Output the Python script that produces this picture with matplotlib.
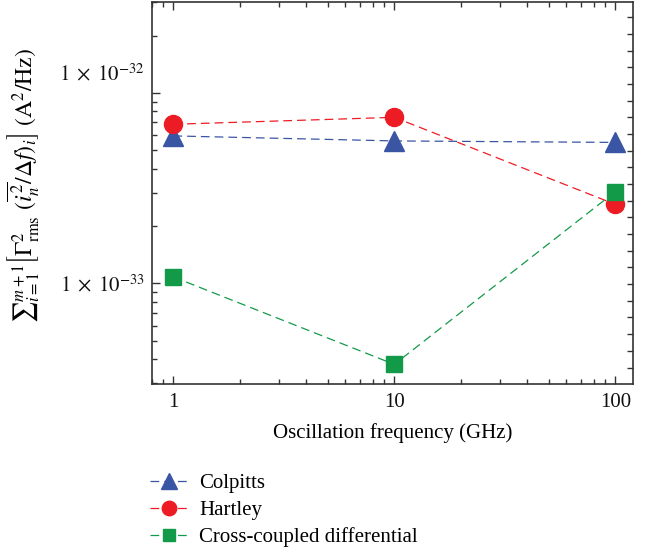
import numpy as np
import matplotlib.pyplot as plt
from matplotlib.ticker import LogLocator, FixedLocator, NullFormatter, FixedFormatter
from matplotlib.transforms import ScaledTranslation

plt.rcParams['font.family'] = ['Liberation Serif', 'DejaVu Serif']
plt.rcParams['mathtext.fontset'] = 'stix'

# data
freq = [1, 10, 100]
colpitts = [5.95e-33, 5.6e-33, 5.5e-33]
hartley = [6.85e-33, 7.45e-33, 2.6e-33]
cross = [1.08e-33, 3.75e-34, 3.03e-33]
names = ["Colpitts", "Hartley", "Cross-coupled differential"]
ytick_vals = [1e-33, 1e-32]
ytick_labels = [r"$1\;\times\;10^{-33}$", r"$1\;\times\;10^{-32}$"]

blue = '#3A55A4'
red = '#ED1C24'
green = '#139A48'
frame = '#333333'

fig = plt.figure(figsize=(6.55, 5.52), dpi=100)
ax = fig.add_axes([0.232, 0.304, 0.734, 0.692])

ax.plot(freq, colpitts, '--', color=blue, lw=0.9, dashes=(7, 4),
        marker='^', ms=15, mec=blue, mfc=blue, label=names[0])
ax.plot(freq, hartley, '--', color=red, lw=0.9, dashes=(7, 4),
        marker='o', ms=13, mec=red, mfc=red, label=names[1])
ax.plot(freq, cross, '--', color=green, lw=0.9, dashes=(7, 4),
        marker='s', ms=11, mec=green, mfc=green, label=names[2])

ax.set_xscale('log')
ax.set_yscale('log')
ax.set_xlim(0.8, 120)
ax.set_ylim(2.95e-34, 3.0e-32)

# x ticks
ax.xaxis.set_major_locator(FixedLocator(freq))
ax.xaxis.set_major_formatter(FixedFormatter(['1', '10', '100']))
ax.xaxis.set_minor_locator(LogLocator(base=10, subs=np.arange(2, 10)))
ax.xaxis.set_minor_formatter(NullFormatter())

# y ticks
ax.yaxis.set_major_locator(FixedLocator(ytick_vals))
ax.yaxis.set_major_formatter(FixedFormatter(ytick_labels))
ax.yaxis.set_minor_locator(LogLocator(base=10, subs=np.arange(2, 10)))
ax.yaxis.set_minor_formatter(NullFormatter())

ax.tick_params(which='both', direction='in', top=True, right=False,
               color=frame, width=1.0, labelsize=15, labelcolor='#111111')
ax.tick_params(which='major', length=6)
ax.tick_params(which='minor', length=3.5)
ax.tick_params(axis='x', pad=6)
ax.tick_params(axis='y', pad=5)

# the upper label sits a little above its tick in the original
fig.canvas.draw()
lab = ax.yaxis.get_majorticklabels()[1]
lab.set_transform(lab.get_transform() + ScaledTranslation(0, 15 / 72, fig.dpi_scale_trans))

for s in ax.spines.values():
    s.set_color(frame)
    s.set_linewidth(1.2)

# right frame carries its own evenly spaced ticks
ax2 = ax.twinx()
ax2.set_ylim(0, 22.9)
ax2.yaxis.set_major_locator(FixedLocator(np.arange(1, 23)))
ax2.tick_params(axis='y', direction='in', length=4, width=1.0, color=frame,
                labelright=False)
for s in ax2.spines.values():
    s.set_visible(False)

ax.set_xlabel("Oscillation frequency (GHz)", fontsize=15, labelpad=8)
ax.set_ylabel(r"$\sum{}_{i=1}^{m+1}\left[\Gamma_{\mathrm{rms}}^{2}\ (\overline{i_n^2}/\Delta f)_i\right]$"
              r" $(\mathrm{A}^2/\mathrm{Hz})$", fontsize=17)
ax.yaxis.set_label_coords(-0.228, 0.52)

handles, labels = ax.get_legend_handles_labels()
fig.legend(handles, labels, loc='upper left', bbox_to_anchor=(0.217, 0.157),
           frameon=False, fontsize=15, handlelength=1.75, handletextpad=0.6,
           labelspacing=0.35, markerscale=0.8, borderaxespad=0)

fig.savefig('out.png', dpi=100)
